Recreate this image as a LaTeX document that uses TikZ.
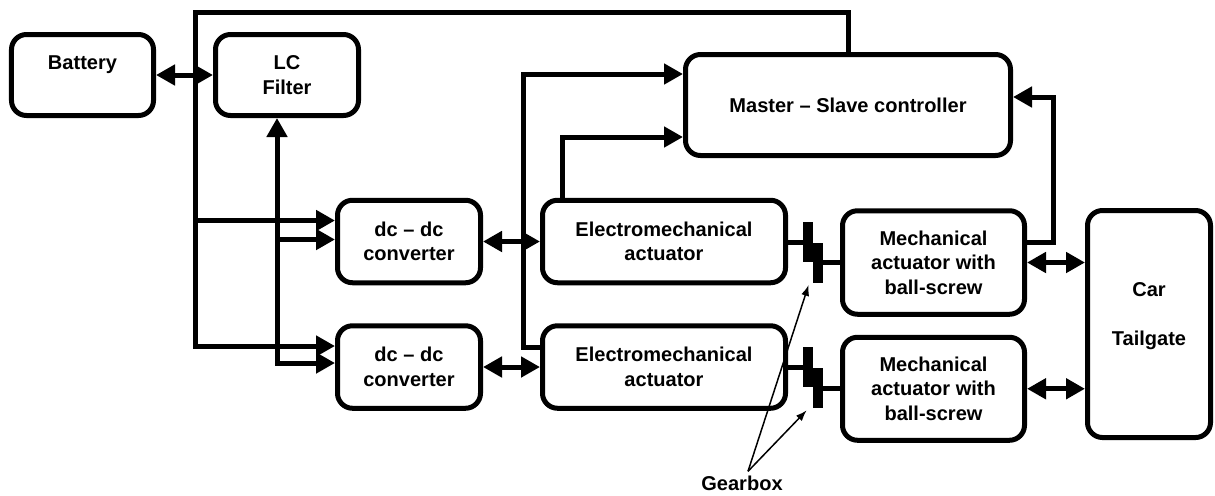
\documentclass[tikz,border=0pt]{standalone}
\usepackage{fontspec}
\setmainfont{Liberation Sans}
\usetikzlibrary{positioning, arrows.meta, calc}

\begin{document}
\begin{tikzpicture}[
    x=0.2mm, y=-0.2mm,
    box/.style={draw, line width=1mm, rounded corners=3mm, inner sep=0pt, align=center, font=\bfseries\fontsize{11.4}{13.9}\selectfont},
    gearbar/.style={fill=black, minimum width=2mm, minimum height=8mm, inner sep=0pt},
    arrow/.style={-{Triangle[length=3.8mm, width=4mm]}, line width=1mm},
    dblarrow/.style={{Triangle[length=3.8mm, width=4mm]}-{Triangle[length=3.8mm, width=4mm]}, line width=1mm},
    wire/.style={line width=1mm},
    pointer/.style={-{Latex[length=2.2mm, width=1.6mm]}, line width=0.3mm},
]
\useasboundingbox (0,0) rectangle (1215,495);

% Supply side
\node[box, minimum width=28.4mm, minimum height=16.2mm] (battery) at (82.5,75) {Battery\\[-1.2mm] \strut};
\node[box, minimum width=28.6mm, minimum height=16.2mm, right=11.4mm of battery] (lcfilter) {LC\\Filter};
\node[box, minimum width=28.6mm, minimum height=16.5mm] (dcA) at (409,241.5) {dc \textendash{} dc\\converter};
\node[box, minimum width=28.6mm, minimum height=16.5mm, below=7.6mm of dcA] (dcB) {dc \textendash{} dc\\converter};

% Actuators and controller
\node[box, minimum width=48.6mm, minimum height=16.5mm, right=11.4mm of dcA] (emA) {Electromechanical\\actuator};
\node[box, minimum width=48.6mm, minimum height=16.5mm, right=11.4mm of dcB] (emB) {Electromechanical\\actuator};
\node[box, minimum width=65mm, minimum height=20.2mm] (master) at (848,105) {Master \textendash{} Slave controller};
\node[box, minimum width=36.4mm, minimum height=20.7mm] (mechA) at (933.5,262.5) {Mechanical\\actuator with\\ball-screw};
\node[box, minimum width=36.4mm, minimum height=20.6mm, below=3.6mm of mechA] (mechB) {Mechanical\\actuator with\\ball-screw};
\node[box, minimum width=24.6mm, minimum height=45.4mm] (car) at (1149,324) {Car\\ \strut\\Tailgate\\[-2.4mm] \strut};

% Gearboxes
\node[gearbar] (gbA1) at (808,242) {};
\node[gearbar] (gbA2) at (818,262.5) {};
\node[gearbar] (gbB1) at (808,367) {};
\node[gearbar] (gbB2) at (818,388) {};
\node[font=\bfseries\fontsize{11.4}{13.9}\selectfont, inner sep=0pt] (gearlbl) at (742,483) {Gearbox};

% Helper points
\coordinate (busA) at (195,12);
\coordinate (busB) at (523,74);
\coordinate (lcfoot) at ($(lcfilter.south)+(-10,0)$);
\coordinate (dcAin1) at ($(dcA.west)+(0,-21)$);
\coordinate (dcAin2) at ($(dcA.west)+(0,-2)$);
\coordinate (dcBin1) at ($(dcB.west)+(0,-21)$);
\coordinate (dcBin2) at ($(dcB.west)+(0,-4)$);

% Connections
\draw[dblarrow] (battery) -- (lcfilter);
\draw[arrow] (master.north) |- (busA) |- (dcBin1);
\draw[arrow] (busA |- dcAin1) -- (dcAin1);
\draw[dblarrow] (lcfoot) |- (dcBin2);
\draw[arrow] (lcfoot |- dcAin2) -- (dcAin2);
\draw[dblarrow] (dcA) -- (emA);
\draw[dblarrow] (dcB) -- (emB);
\draw[arrow] ($(emB.west)+(0,-20)$) -| (busB) -- (busB -| master.west);
\draw[arrow] ($(emA.north)+(-102,0)$) |- ($(master.west)+(0,32)$);
\draw[arrow] ($(mechA.east)+(0,-20)$) -- ++(26,0) |- ($(master.east)+(0,-8)$);
\draw[wire] (emA.east |- gbA1) -- (gbA1.west);
\draw[wire] (gbA2.east) -- (gbA2 -| mechA.west);
\draw[wire] (emB.east |- gbB1) -- (gbB1.west);
\draw[wire] (gbB2.east) -- (gbB2 -| mechB.west);
\draw[dblarrow] (mechA.east) -- (mechA.east -| car.west);
\draw[dblarrow] (mechB.east) -- (mechB.east -| car.west);

% Gearbox pointers
\draw[pointer] ($(gearlbl.north)+(6,-4)$) -- ($(gbA2.south west)+(-4,2)$);
\draw[pointer] ($(gearlbl.north)+(6,-4)$) -- ($(gbB2.south west)+(-6,2)$);

\end{tikzpicture}
\end{document}
